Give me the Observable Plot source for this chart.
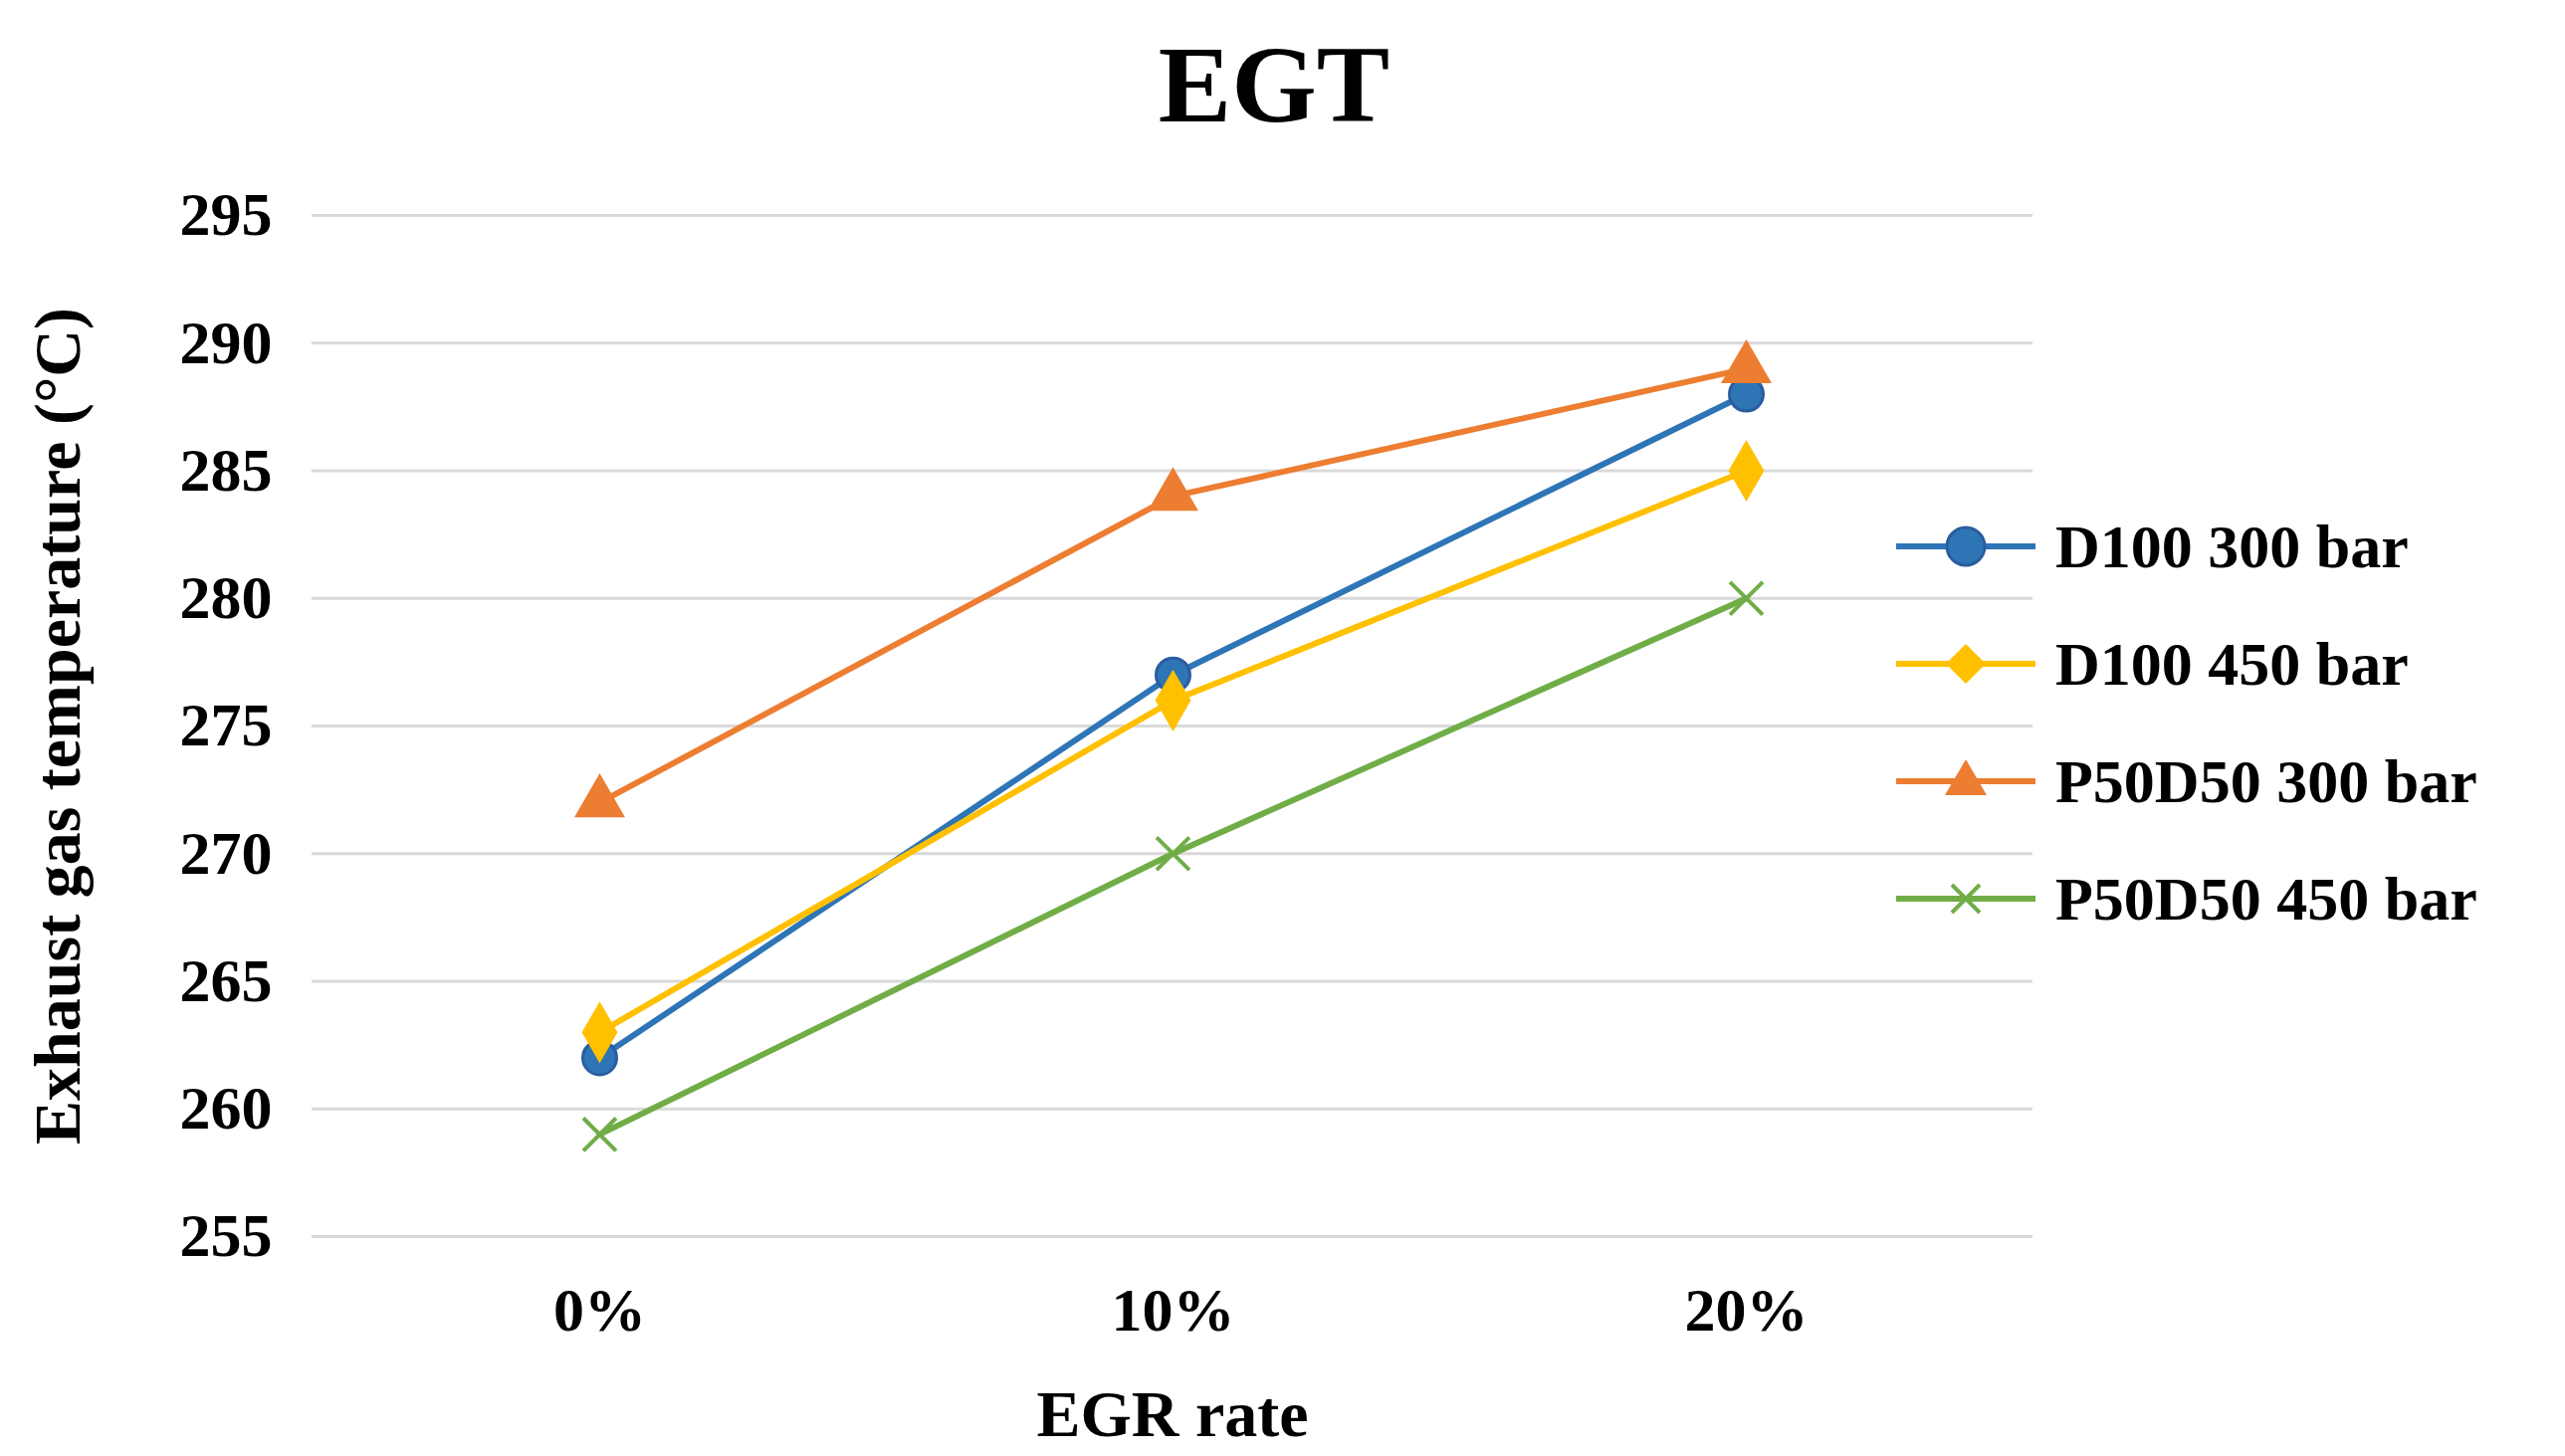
<!DOCTYPE html>
<html><head><meta charset="utf-8">
<script src="https://cdn.jsdelivr.net/npm/d3@7"></script>
<script src="https://cdn.jsdelivr.net/npm/@observablehq/plot@0.6"></script>
<style>
body{margin:0;background:#fff;font-family:"Liberation Serif",serif;}
#wrap{position:relative;width:2577px;height:1463px;}
#title{position:absolute;left:0;width:2560px;text-align:center;top:22px;font-size:110px;font-weight:bold;}
#legend{position:absolute;left:1905px;top:490px;}
.li{display:flex;align-items:center;height:118px;font-size:62px;font-weight:bold;}
.li svg{margin-right:20px;}
</style></head><body>
<div id="wrap"><div id="chart"></div>
<div id="title">EGT</div>
<div id="legend"></div></div>
<script>
const categories = ["0%","10%","20%"];
const seriesNames = ["D100 300 bar","D100 450 bar","P50D50 300 bar","P50D50 450 bar"];
const d100_300 = [262,277,288];
const d100_450 = [263,276,285];
const p50_300 = [272,284,289];
const p50_450 = [259,270,280];
const yTicks = [255,260,265,270,275,280,285,290,295];
const colors = ["#2E75B6","#FFC000","#ED7D31","#70AD47"];
const symbols = ["circle","diamond","triangle","times"];
const all = [d100_300,d100_450,p50_300,p50_450];
const data = all.flatMap((vals,i)=>vals.map((v,j)=>({s:seriesNames[i],x:categories[j],y:v})));

const marks = [Plot.gridY(yTicks,{stroke:"#d9d9d9",strokeOpacity:1,strokeWidth:3})];
seriesNames.forEach((name,i)=>{
  const d = data.filter(r=>r.s===name);
  marks.push(Plot.line(d,{x:"x",y:"y",stroke:colors[i],strokeWidth:6}));
  marks.push(Plot.dot(d,{x:"x",y:"y",symbol:()=>symbols[i],r:i===3?15:17,fill:i===3?"none":colors[i],stroke:i===0?"#2A5D9F":colors[i],strokeWidth:i===3?4:3}));
});
const chart = Plot.plot({
  width:2577,height:1463,marginLeft:313,marginRight:535,marginTop:216,marginBottom:221,
  style:{fontFamily:"Liberation Serif",fontSize:"62px",fontWeight:"bold",color:"#000"},
  x:{type:"point",domain:categories,padding:0.5,label:"EGR rate",labelArrow:"none",labelAnchor:"center",labelOffset:200,tickSize:0,tickPadding:50},
  y:{domain:[255,295],ticks:yTicks,label:"Exhaust gas temperature (°C)",labelArrow:"none",labelAnchor:"center",labelOffset:280,tickSize:0,tickPadding:40},
  symbol:{type:"identity"},
  marks
});
chart.querySelectorAll("[aria-label$='axis label'] text").forEach(t=>t.style.fontSize="66px");
document.getElementById("chart").appendChild(chart);
const lg=document.getElementById("legend");
seriesNames.forEach((n,i)=>{
  const sym = i===0?`<circle cx="70" cy="30" r="19" fill="${colors[i]}" stroke="#2A5D9F" stroke-width="3"/>`:
    i===1?`<path d="M70,10 L90,30 L70,50 L50,30Z" fill="${colors[i]}"/>`:
    i===2?`<path d="M70,8 L91,44 L49,44Z" fill="${colors[i]}"/>`:
    `<path d="M56,16 L84,44 M84,16 L56,44" stroke="${colors[i]}" stroke-width="4"/>`;
  lg.innerHTML += `<div class="li"><svg width="140" height="60"><line x1="0" x2="140" y1="30" y2="30" stroke="${colors[i]}" stroke-width="6"/>${sym}</svg>${n}</div>`;
});
</script></body></html>
